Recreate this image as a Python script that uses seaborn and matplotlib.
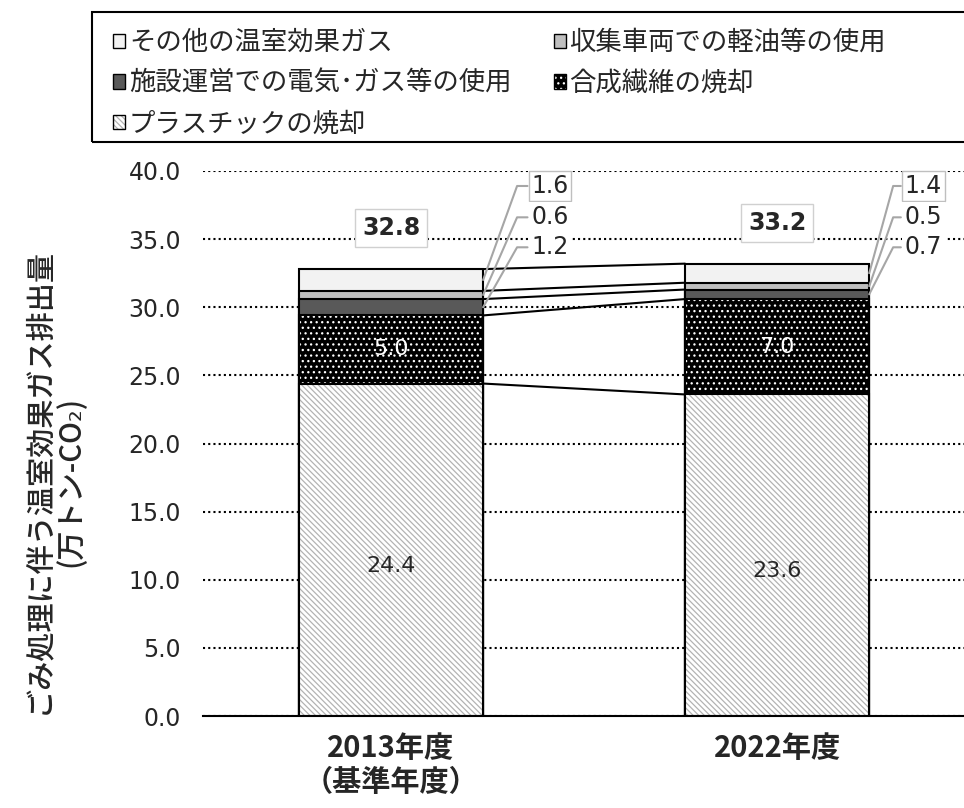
import matplotlib
matplotlib.use('Agg')
import matplotlib.pyplot as plt
import matplotlib.colors as mcolors
from matplotlib.patches import Patch, Rectangle
import seaborn as sns
import pandas as pd
import numpy as np

# ---------------- data ----------------
years = ['2013年度\n（基準年度）', '2022年度']
series_names = ['プラスチックの焼却', '合成繊維の焼却', '施設運営での電気･ガス等の使用',
                '収集車両での軽油等の使用', 'その他の温室効果ガス']
plastic = [24.4, 23.6]
fiber = [5.0, 7.0]
electric = [1.2, 0.7]
diesel = [0.6, 0.5]
other = [1.6, 1.4]
totals = [32.8, 33.2]
yticks = [0, 5, 10, 15, 20, 25, 30, 35, 40]

# ---------------- style ----------------
sns.set_theme(style='white')
plt.rcParams['font.family'] = ['Noto Sans CJK JP', 'DejaVu Sans']
plt.rcParams['hatch.linewidth'] = 0.9
NUMF = ['DejaVu Sans', 'Noto Sans CJK JP']

face = ['white', 'black', '#595959', '#bfbfbf', '#f2f2f2']
hatches = ['\\\\\\\\\\\\', '...', None, None, None]
hatch_col = ['#b3b3b3', 'white', None, None, None]
BAR_W = 0.477

fig = plt.figure(figsize=(9.64, 8.08), dpi=100)
ax = fig.add_axes([203 / 964, 1 - 716 / 808, 761 / 964, 545 / 808])

series = [plastic, fiber, electric, diesel, other]
cum = np.cumsum(np.array(series), axis=0)

def set_hcol(p, c):
    if c is None:
        return
    if hasattr(p, 'set_hatchcolor'):
        p.set_hatchcolor(c)
    else:
        p._hatch_color = mcolors.to_rgba(c)

for i in reversed(range(len(series))):
    df = pd.DataFrame({'year': years, 'value': cum[i]})
    n0 = len(ax.patches)
    sns.barplot(data=df, x='year', y='value', ax=ax, width=BAR_W, color=face[i],
                saturation=1, edgecolor='black', linewidth=1.5, errorbar=None)
    for p in ax.patches[n0:]:
        p.set_facecolor(face[i])
        if hatches[i]:
            p.set_hatch(hatches[i])
            set_hcol(p, hatch_col[i])

# series lines between bars
for i in range(len(series)):
    ax.plot([0 + BAR_W / 2, 1 - BAR_W / 2], [cum[i][0], cum[i][1]],
            color='black', lw=1.5, zorder=3)

# inner labels
txt_col = '#262626'
for j in range(2):
    ax.text(j, cum[0][j] * 0.45, f'{plastic[j]:.1f}', ha='center', va='center',
            fontsize=16, color=txt_col, zorder=5, family=NUMF)
    ax.text(j, cum[0][j] + fiber[j] / 2, f'{fiber[j]:.1f}', ha='center', va='center',
            fontsize=16, color='white', zorder=5, family=NUMF)
    ax.text(j, totals[j] + 3.0, f'{totals[j]:.1f}', ha='center', va='center',
            fontsize=17, fontweight='bold', color=txt_col, zorder=6, family=NUMF,
            bbox=dict(boxstyle='square,pad=0.3', facecolor='white', edgecolor='#d0d0d0', lw=1))

# small segment labels with leader lines
label_rows = [38.9, 36.6, 34.4]      # text rows (layout)
elbow_dx = [0.088, 0.062]
text_dx = [0.125, 0.092]
small = [(4, other), (3, diesel), (2, electric)]
for j in range(2):
    for k, (si, vals) in enumerate(small):
        seg_mid = cum[si - 1][j] + vals[j] / 2
        x0 = j + BAR_W / 2
        ax.plot([x0, x0 + elbow_dx[j], x0 + text_dx[j] - 0.01],
                [seg_mid, label_rows[k], label_rows[k]],
                color='#a6a6a6', lw=1.5, zorder=4, clip_on=False)
        ec = '#bfbfbf' if k == 0 else 'none'
        ax.text(x0 + text_dx[j], label_rows[k], f'{vals[j]:.1f}', ha='left', va='center',
                fontsize=17, color=txt_col, zorder=6, family=NUMF,
                bbox=dict(boxstyle='square,pad=0.12', facecolor='white', edgecolor=ec, lw=1))

# axes
ax.set_xlim(-0.487, 1.484)
ax.set_ylim(0, 40)
ax.set_yticks(yticks)
ax.set_yticklabels([f'{v:.1f}' for v in yticks], fontsize=17, color=txt_col, family=NUMF)
ax.tick_params(axis='y', length=0, pad=16)
ax.tick_params(axis='x', length=0, pad=12)
for lab in ax.get_xticklabels():
    lab.set_fontsize(21)
    lab.set_fontweight('bold')
    lab.set_color(txt_col)
ax.set_xlabel('')
ax.set_ylabel('')
ax.yaxis.grid(True, color='black', linestyle=(0, (1, 1.5)), lw=1.5)
ax.set_axisbelow(True)
for s in ['left', 'top', 'right']:
    ax.spines[s].set_visible(False)
ax.spines['bottom'].set_color('black')
ax.spines['bottom'].set_linewidth(1.5)

fig.text(55 / 964, 1 - 481 / 808, 'ごみ処理に伴う温室効果ガス排出量\n(万トン-CO₂)', rotation=90,
         ha='center', va='center', fontsize=21, fontweight='medium', color=txt_col,
         multialignment='center', linespacing=1.05)

# legend
order = [4, 2, 0, 3, 1]
handles = [Patch(facecolor=face[i], edgecolor='black', hatch=hatches[i], lw=1) for i in order]
labels = [series_names[i] for i in order]
leg = fig.legend(handles, labels, loc='upper left', bbox_to_anchor=(92 / 964, 1 - 8 / 808),
                 ncol=2, frameon=False, fontsize=19, handlelength=0.45, handleheight=0.45,
                 handletextpad=0.15, columnspacing=1.6, labelspacing=0.52, borderpad=0.3)
for h, i in zip(leg.get_patches(), order):
    set_hcol(h, hatch_col[i])
for t in leg.get_texts():
    t.set_color(txt_col)
fig.patches.append(Rectangle((92 / 964, 1 - 142 / 808), 0.92, 130 / 808,
                             transform=fig.transFigure, fill=False, edgecolor='black',
                             lw=1.5, clip_on=False))

fig.savefig('out.png', dpi=100)
